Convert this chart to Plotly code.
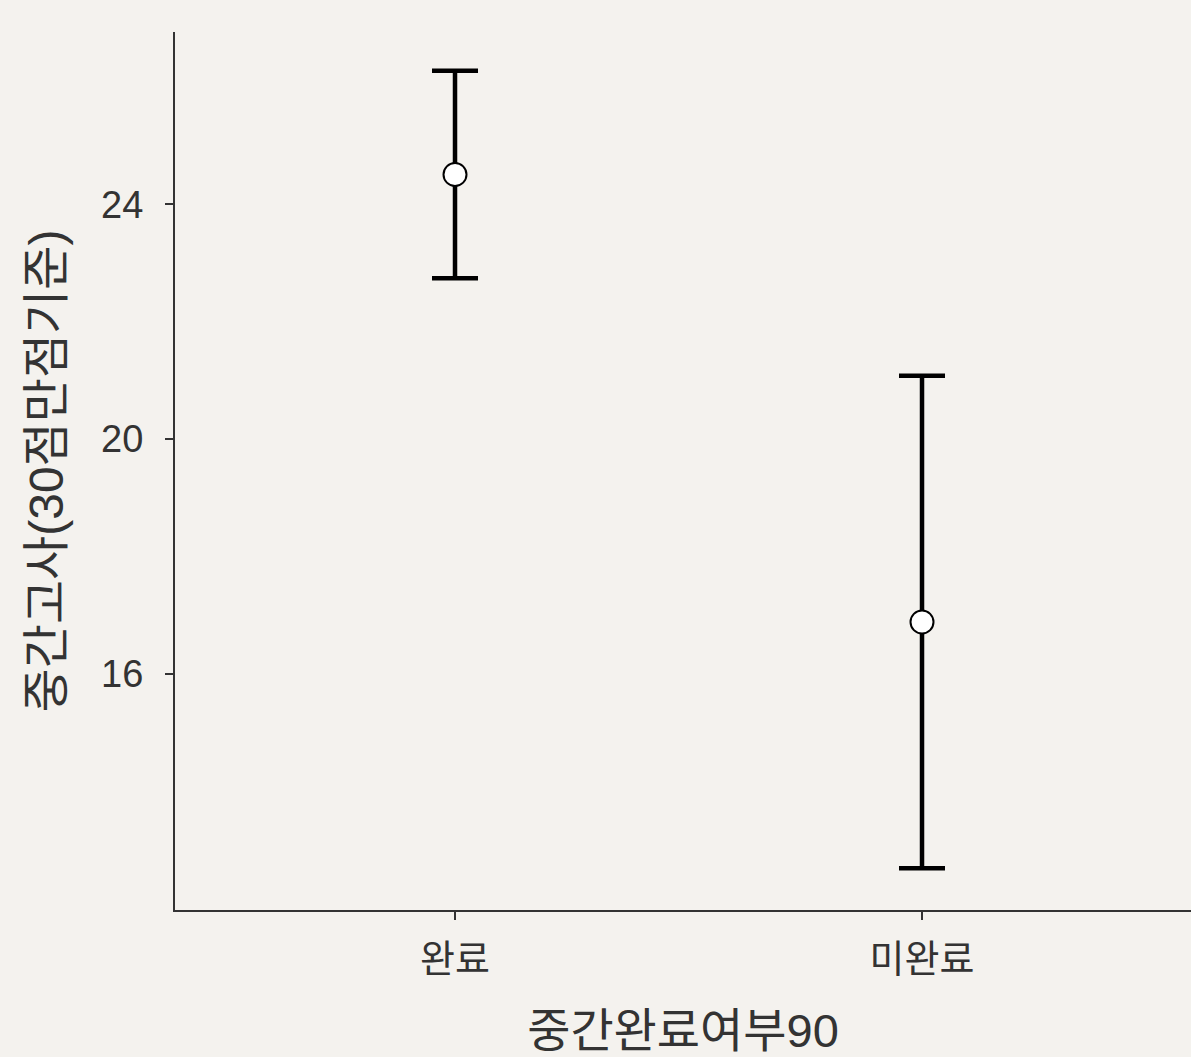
import plotly.graph_objects as go

# Midterm score (30-point scale) by completion group: mean and error half-width
groups = ["완료", "미완료"]
means = [24.51, 16.88]
errors = [1.77, 4.20]
y_ticks = [16, 20, 24]

bg = "#f4f2ee"
ink = "#333333"
font_family = "Liberation Sans, Noto Sans CJK KR, sans-serif"

fig = go.Figure()
fig.add_trace(go.Scatter(
    x=groups,
    y=means,
    mode="markers",
    marker=dict(size=23, color="white", line=dict(color="black", width=2)),
    error_y=dict(type="data", array=errors, visible=True,
                 color="black", thickness=4.5, width=23),
    showlegend=False,
    cliponaxis=False,
))

fig.update_layout(
    width=1191,
    height=1057,
    paper_bgcolor=bg,
    plot_bgcolor=bg,
    margin=dict(l=175, r=0, t=32, b=147),
    font=dict(family=font_family, color=ink),
    xaxis=dict(
        type="category",
        range=[-0.5996, 1.576],
        showline=True, linecolor=ink, linewidth=2,
        ticks="outside", ticklen=8, tickwidth=2, tickcolor=ink,
        tickfont=dict(size=38, color=ink),
        ticklabelstandoff=6,
        showgrid=False, zeroline=False,
        title=dict(text="중간완료여부90", font=dict(size=47, color=ink), standoff=36),
    ),
    yaxis=dict(
        range=[11.97, 26.94],
        tickvals=y_ticks,
        showline=True, linecolor=ink, linewidth=2,
        ticks="outside", ticklen=8, tickwidth=2, tickcolor=ink,
        tickfont=dict(size=38, color=ink),
        ticklabelstandoff=14,
        showgrid=False, zeroline=False,
        title=dict(text="중간고사(30점만점기준)", font=dict(size=48, color=ink), standoff=22),
    ),
)

fig.write_html("out.html")
